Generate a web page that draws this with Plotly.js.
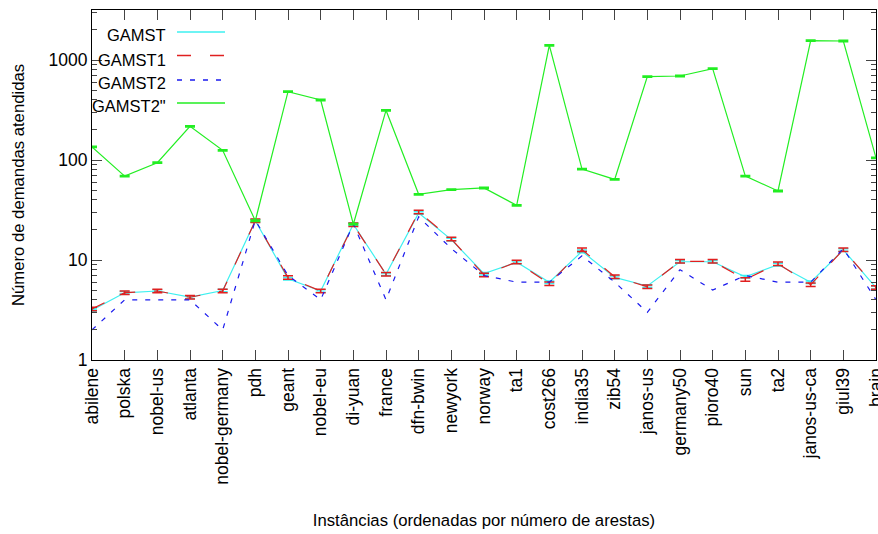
<!DOCTYPE html>
<html>
<head>
<meta charset="utf-8">
<script src="https://cdn.plot.ly/plotly-3.0.1.min.js"></script>
<style>html,body{margin:0;padding:0;background:#fff;}#chart{width:878px;height:534px;}</style>
</head>
<body>
<div id="chart"></div>
<script>
const categories = ['abilene','polska','nobel-us','atlanta','nobel-germany','pdh','geant','nobel-eu','di-yuan','france','dfn-bwin','newyork','norway','ta1','cost266','india35','zib54','janos-us','germany50','pioro40','sun','ta2','janos-us-ca','giul39','brain'];

const gamst    = [3.15, 4.7, 4.9, 4.25, 4.95, 24.7, 6.5, 4.9, 22.8, 7.2, 29.5, 16.0, 7.3, 9.5, 6.0, 12.2, 6.7, 5.5, 9.6, 9.6, 6.8, 9.0, 6.0, 12.6, 5.3];
const gamst1   = [3.24, 4.71, 4.9, 4.24, 4.9, 24.7, 6.7, 4.9, 22.5, 7.2, 30.2, 16.2, 7.1, 9.55, 5.8, 12.7, 6.8, 5.4, 9.7, 9.7, 6.4, 9.2, 5.67, 12.7, 5.3];
const gamst2   = [2, 4, 4, 4, 2, 25, 7, 4, 23, 4, 27, 13, 7, 6, 6, 11, 6, 3, 8, 5, 7, 6, 6, 13, 4];
const gamst2pp = [135, 69, 94, 217, 125, 24.7, 482, 398, 22.8, 314, 45.4, 50.5, 52.5, 35.2, 1403, 81, 64, 681, 692, 819, 69, 49, 1561, 1549, 105];

const seriesNames = ['GAMST', 'GAMST1', 'GAMST2', 'GAMST2"'];
const yTickVals = [1, 10, 100, 1000];
const yTickText = ['1', '10', '100', '1000'];

const colors = ['#3ef0f0', '#e02020', '#1a1aee', '#22ee22'];
const dashes = ['solid', '14px,19px', '5px,8px', 'solid'];
const errPct = [3, 4, 0, 1.5];
const errShow = [true, true, false, true];
const seriesData = [gamst, gamst1, gamst2, gamst2pp];

const traces = seriesData.map((ys, i) => ({
  type: 'scatter',
  mode: 'lines',
  name: seriesNames[i],
  x: categories,
  y: ys,
  line: {color: colors[i], width: 1.2, dash: dashes[i]},
  error_y: {type: 'percent', value: errPct[i], color: colors[i], thickness: 1.5, width: 5, visible: errShow[i]},
  showlegend: false
}));

const FONT = 'Liberation Sans, Arial, Helvetica, sans-serif';

// gnuplot-style key: text right-aligned, sample line on its right
const keyY = [35, 59.5, 83, 106.5];
const lineY = [32, 55.5, 80, 103];
const plotL = 92, plotW = 784, plotT = 10, plotH = 350;
const px2x = p => (p - plotL) / plotW;
const px2y = p => (plotT + plotH - p) / plotH;

const annotations = seriesNames.map((n, i) => ({
  xref: 'paper', yref: 'paper', x: px2x(168), y: px2y(keyY[i]),
  xanchor: 'right', yanchor: 'middle', text: n, showarrow: false,
  font: {family: FONT, size: 16.5, color: '#000'}
}));
const shapes = seriesNames.map((n, i) => ({
  type: 'line', xref: 'paper', yref: 'paper',
  x0: px2x(177), x1: px2x(225), y0: px2y(lineY[i]), y1: px2y(lineY[i]),
  line: {color: colors[i], width: 1.5, dash: dashes[i]}
}));

const layout = {
  width: 878, height: 534,
  margin: {l: 92, r: 2, t: 10, b: 174, pad: 0},
  paper_bgcolor: '#fff', plot_bgcolor: '#fff',
  font: {family: FONT, size: 16, color: '#000'},
  showlegend: false,
  xaxis: {
    type: 'category', range: [0, 24],
    showline: true, linecolor: '#000', linewidth: 1, mirror: 'allticks',
    ticks: 'inside', ticklen: 10, tickcolor: '#444', tickwidth: 1,
    tickangle: -90, showgrid: false, zeroline: false,
    tickfont: {family: FONT, size: 17.5},
    title: {text: 'Instâncias (ordenadas por número de arestas)', font: {family: FONT, size: 16.7}, standoff: 30},
    automargin: false
  },
  yaxis: {
    type: 'log', range: [0, 3.5],
    tickvals: yTickVals, ticktext: yTickText,
    showline: true, linecolor: '#000', linewidth: 1, mirror: 'allticks',
    ticks: 'inside', ticklen: 10, tickcolor: '#444', tickwidth: 1,
    minor: {ticks: 'inside', ticklen: 5, tickcolor: '#444', dtick: 'D1', showgrid: false},
    showgrid: false, zeroline: false,
    tickfont: {family: FONT, size: 17.5},
    title: {text: 'Número de demandas atendidas', font: {family: FONT, size: 16.7}, standoff: 19},
    automargin: false
  },
  annotations: annotations,
  shapes: shapes
};

Plotly.newPlot('chart', traces, layout, {displayModeBar: false, staticPlot: true});
</script>
</body>
</html>
